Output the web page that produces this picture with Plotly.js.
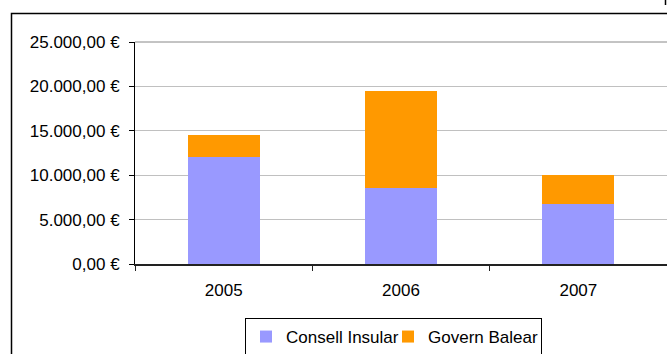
<!DOCTYPE html>
<html><head><meta charset="utf-8">
<script src="https://cdn.plot.ly/plotly-3.0.1.min.js"></script>
<style>html,body{margin:0;padding:0;background:#fff}#chart{width:667px;height:354px}</style>
</head><body><div id="chart"></div>
<script>
const years = ['2005', '2006', '2007'];
const consellInsular = [12000, 8600, 6800];
const governBalear = [2500, 10900, 3200];
const yTickVals = [0, 5000, 10000, 15000, 20000, 25000];
const yTickText = ['0,00 €', '5.000,00 €', '10.000,00 €', '15.000,00 €', '20.000,00 €', '25.000,00 €'];

const font = {family: 'Liberation Sans, Arial, sans-serif', size: 17, color: '#000'};
const L = 135, T = 42, W = 532, H = 222;
const px = x => (x - L) / W;
const py = y => (T + H - y) / H;

const data = [
  {type: 'bar', name: 'Consell Insular', x: years, y: consellInsular, marker: {color: '#9999ff'}, legendwidth: 97},
  {type: 'bar', name: 'Govern Balear', x: years, y: governBalear, marker: {color: '#ff9900'}, legendwidth: 108}
];
const layout = {
  width: 667, height: 354,
  margin: {l: L, r: 667 - L - W, t: T, b: 354 - T - H, pad: 0, autoexpand: false},
  barmode: 'stack', bargap: 0.593,
  paper_bgcolor: '#fff', plot_bgcolor: '#fff',
  font: font,
  showlegend: true,
  legend: {orientation: 'h', xref: 'container', yref: 'container',
    x: 245 / 667, xanchor: 'left', y: 1 - 318 / 354, yanchor: 'top',
    bordercolor: '#000', borderwidth: 1, bgcolor: '#fff', font: font,
    itemwidth: 30, traceorder: 'normal', tracegroupgap: 0},
  xaxis: {type: 'category', showline: true, linecolor: '#222', linewidth: 1.5,
    ticks: 'outside', tickson: 'boundaries', ticklen: 5, tickcolor: '#222',
    showgrid: false, tickfont: font, fixedrange: true, automargin: false, ticklabelstandoff: 10},
  yaxis: {range: [0, 25000], tickvals: yTickVals, ticktext: yTickText, automargin: false,
    showline: true, linecolor: '#000', linewidth: 1, ticks: 'outside', ticklen: 5, tickcolor: '#000',
    showgrid: true, gridcolor: '#c0c0c0', gridwidth: 1, zeroline: false,
    tickfont: font, ticklabelstandoff: 6},
  shapes: [
    {type: 'rect', xref: 'paper', yref: 'paper', x0: px(11.5), x1: px(700), y0: py(13.5), y1: py(400),
      line: {color: '#000', width: 1.5}, fillcolor: 'rgba(0,0,0,0)', layer: 'below'},
    {type: 'line', xref: 'paper', yref: 'paper', x0: px(L), x1: px(667), y0: 1, y1: 1,
      line: {color: '#888', width: 1}},
    {type: 'line', xref: 'paper', yref: 'paper', x0: px(665.5), x1: px(665.5), y0: py(0), y1: py(5),
      line: {color: '#000', width: 1.5}}
  ]
};
Plotly.newPlot('chart', data, layout, {displayModeBar: false, staticPlot: true});
</script></body></html>
